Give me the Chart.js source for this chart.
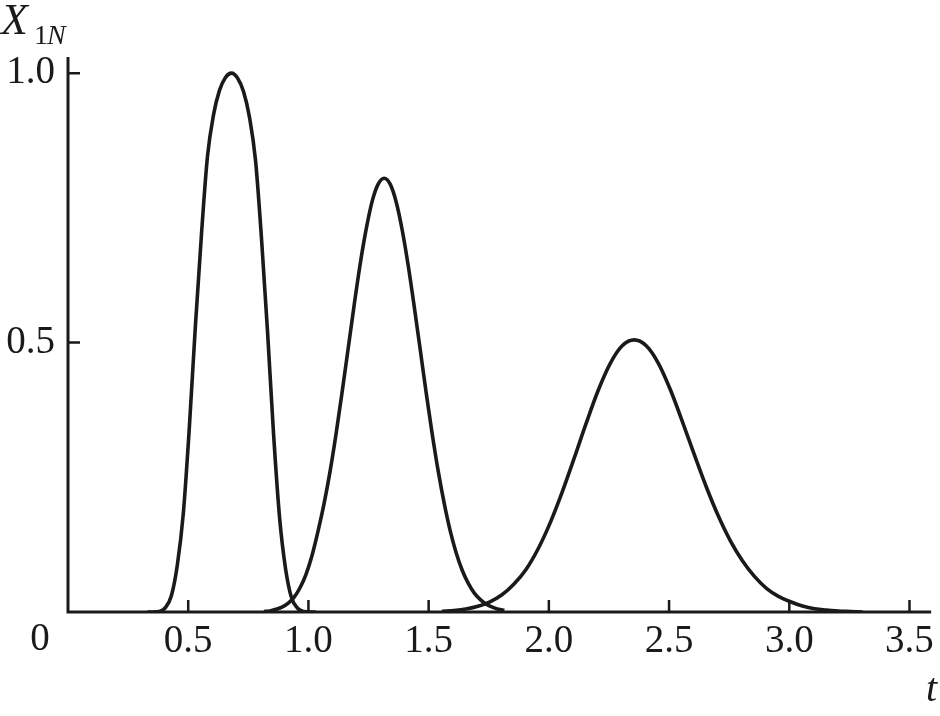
<!DOCTYPE html>
<html><head><meta charset="utf-8">
<script src="https://cdn.jsdelivr.net/npm/chart.js@4/dist/chart.umd.min.js"></script>
<style>html,body{margin:0;padding:0;background:#fff}canvas{display:block}</style>
</head><body>
<canvas id="c" width="940" height="716"></canvas>
<script>
// Curve 1 (first pulse)
const t1 = [0.33,0.355,0.38,0.405,0.43,0.455,0.48,0.505,0.53,0.555,0.58,0.605,0.63,0.655,0.68,0.705,0.73,0.755,0.78,0.805,0.83,0.855,0.88,0.905,0.93,0.955,0.98,1.005,1.03];
const x1 = [0,0,0.001,0.008,0.030,0.088,0.185,0.345,0.532,0.700,0.845,0.922,0.968,0.992,1.0,0.991,0.966,0.918,0.838,0.692,0.520,0.330,0.175,0.080,0.026,0.007,0.001,0,0];
// Curve 2 (second pulse)
const t2 = [0.815,0.84,0.865,0.89,0.915,0.94,0.965,0.99,1.015,1.04,1.065,1.09,1.115,1.14,1.165,1.19,1.215,1.24,1.265,1.29,1.315,1.34,1.365,1.39,1.415,1.44,1.465,1.49,1.515,1.54,1.565,1.59,1.615,1.64,1.665,1.69,1.715,1.74,1.765,1.79,1.815];
const x2 = [0.001,0.002,0.005,0.009,0.016,0.027,0.045,0.070,0.105,0.150,0.201,0.261,0.331,0.408,0.488,0.569,0.645,0.710,0.762,0.794,0.805,0.794,0.761,0.709,0.643,0.567,0.487,0.406,0.330,0.261,0.201,0.150,0.109,0.077,0.053,0.035,0.023,0.0145,0.009,0.005,0.003];
// Curve 3 (third pulse)
const t3 = [1.555,1.605,1.655,1.705,1.755,1.805,1.855,1.905,1.955,2.005,2.055,2.105,2.155,2.205,2.255,2.305,2.355,2.405,2.455,2.505,2.555,2.605,2.655,2.705,2.755,2.805,2.855,2.905,2.955,3.005,3.055,3.105,3.155,3.205,3.255,3.305];
const x3 = [0.0012,0.0027,0.0055,0.0105,0.019,0.032,0.052,0.079,0.117,0.165,0.222,0.285,0.350,0.411,0.461,0.494,0.505,0.494,0.462,0.413,0.354,0.292,0.232,0.178,0.132,0.095,0.066,0.044,0.029,0.019,0.011,0.006,0.0035,0.002,0.001,0];

const xTicks = [0,0.5,1.0,1.5,2.0,2.5,3.0,3.5];
const yTicks = [0,0.5,1.0];
const xMax = 3.59, yMax = 1.03;
const yTitle = {main:'X', sub1:'1', sub2:'N'};
const xTitle = 't';
const originLabel = '0';

const INK = '#1a1a1a';
const SERIF = '"Liberation Serif","Times New Roman",serif';

function pts(t, v){ return t.map((x,i)=>({x:x, y:v[i]})); }
const lineStyle = {showLine:true, pointRadius:0, borderColor:INK, borderWidth:3.6, cubicInterpolationMode:'monotone', fill:false};

const axesPlugin = {
  id:'axes',
  afterDatasetsDraw(chart){
    const {ctx, chartArea:a, scales:{x, y}} = chart;
    ctx.save();
    ctx.strokeStyle = INK;
    ctx.lineCap = 'butt';
    ctx.lineJoin = 'miter';
    ctx.lineWidth = 3;
    ctx.beginPath();
    ctx.moveTo(a.left, a.top);
    ctx.lineTo(a.left, a.bottom);
    ctx.lineTo(a.right, a.bottom);
    ctx.stroke();
    ctx.lineWidth = 2.5;
    ctx.beginPath();
    xTicks.forEach(v => { if (v > 0) { const px = x.getPixelForValue(v); ctx.moveTo(px, a.bottom); ctx.lineTo(px, a.bottom - 12); } });
    yTicks.forEach(v => { if (v > 0) { const py = y.getPixelForValue(v); ctx.moveTo(a.left, py); ctx.lineTo(a.left + 12, py); } });
    ctx.stroke();
    ctx.fillStyle = INK;
    ctx.textBaseline = 'alphabetic';
    ctx.textAlign = 'center';
    ctx.font = '39px ' + SERIF;
    ctx.fillText(originLabel, x.getPixelForValue(0) - 28, a.bottom + 38);
    ctx.textAlign = 'left';
    ctx.font = 'italic 44px ' + SERIF;
    ctx.fillText(yTitle.main, 1, 34);
    ctx.font = '28px ' + SERIF;
    ctx.fillText(yTitle.sub1, 34, 44);
    ctx.font = 'italic 28px ' + SERIF;
    ctx.fillText(yTitle.sub2, 47, 44);
    ctx.font = 'italic 40px ' + SERIF;
    ctx.textAlign = 'right';
    ctx.fillText(xTitle, 937, 701);
    ctx.restore();
  }
};

new Chart(document.getElementById('c'), {
  type:'scatter',
  data:{datasets:[
    Object.assign({data:pts(t1,x1)}, lineStyle),
    Object.assign({data:pts(t2,x2)}, lineStyle),
    Object.assign({data:pts(t3,x3)}, lineStyle)
  ]},
  options:{
    responsive:false,
    animation:false,
    layout:{padding:{top:57, right:5, left:0, bottom:0}},
    plugins:{legend:{display:false}, tooltip:{enabled:false}},
    scales:{
      x:{
        type:'linear', min:0, max:xMax,
        afterBuildTicks(s){ s.ticks = xTicks.map(v=>({value:v})); },
        afterFit(s){ s.height = 104; },
        grid:{display:false, drawTicks:false},
        border:{display:false},
        ticks:{
          autoSkip:false, maxRotation:0, padding:6, color:INK,
          font:{family:SERIF, size:39},
          callback(v){ return v === 0 ? '' : Number(v).toFixed(1); }
        }
      },
      y:{
        type:'linear', min:0, max:yMax,
        afterBuildTicks(s){ s.ticks = yTicks.map(v=>({value:v})); },
        afterFit(s){ s.width = 68; },
        grid:{display:false, drawTicks:false},
        border:{display:false},
        ticks:{
          autoSkip:false, padding:13, color:INK,
          font:{family:SERIF, size:39},
          callback(v){ return v === 0 ? '' : Number(v).toFixed(1); }
        }
      }
    }
  },
  plugins:[axesPlugin]
});
</script>
</body></html>
